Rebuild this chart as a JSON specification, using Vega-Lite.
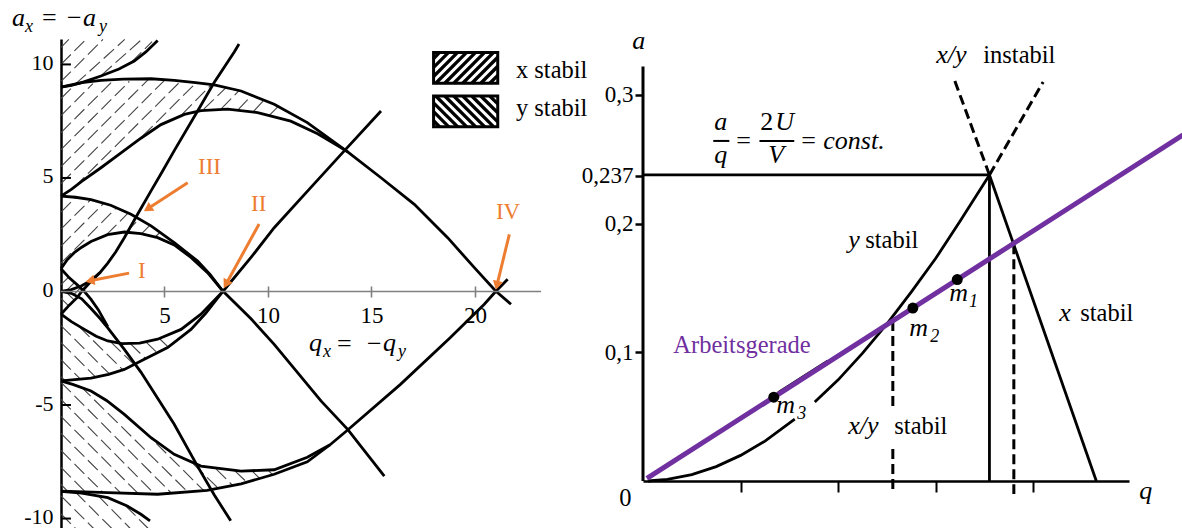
{
"$schema":"https://vega.github.io/schema/vega-lite/v6.json",
"padding":{"left":11,"top":5,"right":0,"bottom":0},
"autosize":{"type":"pad"},
"bounds":"flush",
"spacing":102,
"config":{"font":"'Liberation Serif', 'Times New Roman', 'DejaVu Serif', serif","view":{"stroke":null},"axis":{"grid":false,"labelFont":"'Liberation Serif', 'Times New Roman', 'DejaVu Serif', serif","labelFontSize":23,"labelColor":"black"},"text":{"font":"'Liberation Serif', 'Times New Roman', 'DejaVu Serif', serif","color":"black"}},
"datasets":{
"lc":[
{"c":"b3","q":0,"a":9.0},{"c":"b3","q":1,"a":9.2},{"c":"b3","q":1.93,"a":9.3},{"c":"b3","q":3,"a":9.35},{"c":"b3","q":4.35,"a":9.37},{"c":"b3","q":5.47,"a":9.3},{"c":"b3","q":6.5,"a":9.2},{"c":"b3","q":7.4,"a":9.1},{"c":"b3","q":8.7,"a":8.83},{"c":"b3","q":10.3,"a":8.25},{"c":"b3","q":11.9,"a":7.44},{"c":"b3","q":12.9,"a":6.78},{"c":"b3","q":13.85,"a":6.15},{"c":"b3","q":15.46,"a":5.01},{"c":"b3","q":17.07,"a":3.84},{"c":"b3","q":18.68,"a":2.37},{"c":"b3","q":19.97,"a":1.05},{"c":"b3","q":21.0,"a":0.02},{"c":"b3","q":21.74,"a":-0.56},
{"c":"a2","q":0,"a":4.2},{"c":"a2","q":0.5,"a":4.5},{"c":"a2","q":1,"a":4.85},{"c":"a2","q":1.93,"a":5.45},{"c":"a2","q":2.9,"a":6.1},{"c":"a2","q":3.86,"a":6.75},{"c":"a2","q":4.83,"a":7.35},{"c":"a2","q":5.96,"a":7.8},{"c":"a2","q":6.76,"a":7.97},{"c":"a2","q":8.05,"a":8.03},{"c":"a2","q":9.5,"a":7.88},{"c":"a2","q":11.1,"a":7.5},{"c":"a2","q":12.4,"a":6.95},{"c":"a2","q":13.5,"a":6.35},{"c":"a2","q":13.85,"a":6.15},
{"c":"a3","q":0,"a":9.0},{"c":"a3","q":0.5,"a":9.08},{"c":"a3","q":1,"a":9.2},{"c":"a3","q":1.93,"a":9.49},{"c":"a3","q":2.8,"a":9.8},{"c":"a3","q":3.54,"a":10.15},{"c":"a3","q":4.1,"a":10.55},{"c":"a3","q":4.67,"a":11.05},
{"c":"b2","q":0,"a":4.2},{"c":"b2","q":0.7,"a":4.15},{"c":"b2","q":1.45,"a":4.05},{"c":"b2","q":2.4,"a":3.8},{"c":"b2","q":3.38,"a":3.4},{"c":"b2","q":4.35,"a":2.89},{"c":"b2","q":5.47,"a":2.15},{"c":"b2","q":6.6,"a":1.34},{"c":"b2","q":7.2,"a":0.75},{"c":"b2","q":7.82,"a":0.02},{"c":"b2","q":9.18,"a":-1.2},{"c":"b2","q":10.3,"a":-2.33},{"c":"b2","q":12.56,"a":-4.82},{"c":"b2","q":13.85,"a":-6.07},{"c":"b2","q":15.62,"a":-8.13},
{"c":"a1","q":0,"a":1.0},{"c":"a1","q":0.3,"a":1.4},{"c":"a1","q":0.64,"a":1.71},{"c":"a1","q":1,"a":1.95},{"c":"a1","q":1.45,"a":2.2},{"c":"a1","q":2.25,"a":2.5},{"c":"a1","q":3.06,"a":2.62},{"c":"a1","q":3.86,"a":2.55},{"c":"a1","q":4.67,"a":2.37},{"c":"a1","q":5.47,"a":2.05},{"c":"a1","q":6.28,"a":1.5},{"c":"a1","q":7.08,"a":0.83},{"c":"a1","q":7.82,"a":0.02},
{"c":"b1","q":0,"a":1.0},{"c":"b1","q":0.4,"a":0.6},{"c":"b1","q":0.8,"a":0.28},{"c":"b1","q":1.13,"a":0},{"c":"b1","q":1.45,"a":-0.35},{"c":"b1","q":1.8,"a":-0.8},{"c":"b1","q":2.26,"a":-1.55},
{"c":"a0","q":0,"a":0},{"c":"a0","q":0.5,"a":-0.08},{"c":"a0","q":1,"a":-0.32},{"c":"a0","q":1.45,"a":-0.75},{"c":"a0","q":1.9,"a":-1.2},{"c":"a0","q":2.26,"a":-1.6},{"c":"a0","q":3.06,"a":-2.55},{"c":"a0","q":3.86,"a":-3.55},{"c":"a0","q":4.7,"a":-4.75},{"c":"a0","q":5.47,"a":-5.85},{"c":"a0","q":6.6,"a":-7.7},{"c":"a0","q":7.4,"a":-8.95},{"c":"a0","q":8.2,"a":-10.1},
{"c":"ma0","q":0,"a":0},{"c":"ma0","q":0.5,"a":0.08},{"c":"ma0","q":1,"a":0.25},{"c":"ma0","q":1.45,"a":0.48},{"c":"ma0","q":1.9,"a":0.85},{"c":"ma0","q":2.26,"a":1.25},{"c":"ma0","q":2.65,"a":1.75},{"c":"ma0","q":3.06,"a":2.37},{"c":"ma0","q":3.7,"a":3.4},{"c":"ma0","q":4.35,"a":4.43},{"c":"ma0","q":4.91,"a":5.31},{"c":"ma0","q":5.5,"a":6.25},{"c":"ma0","q":6.6,"a":7.95},{"c":"ma0","q":7.4,"a":9.2},{"c":"ma0","q":8.37,"a":10.55},{"c":"ma0","q":8.6,"a":10.9},
{"c":"mb1","q":0,"a":-1.0},{"c":"mb1","q":0.4,"a":-0.6},{"c":"mb1","q":0.8,"a":-0.25},{"c":"mb1","q":1.0,"a":0},{"c":"mb1","q":1.45,"a":0.45},{"c":"mb1","q":1.9,"a":0.85},
{"c":"mb3","q":0,"a":-8.79},{"c":"mb3","q":2.26,"a":-8.86},{"c":"mb3","q":4.67,"a":-8.93},{"c":"mb3","q":7.06,"a":-8.76},{"c":"mb3","q":8.7,"a":-8.47},{"c":"mb3","q":10.3,"a":-8.05},{"c":"mb3","q":11.9,"a":-7.5},{"c":"mb3","q":13,"a":-6.75},{"c":"mb3","q":13.85,"a":-6.1},{"c":"mb3","q":16.4,"a":-4.09},{"c":"mb3","q":18.8,"a":-2.04},{"c":"mb3","q":20.45,"a":-0.56},{"c":"mb3","q":21.0,"a":0},{"c":"mb3","q":21.58,"a":0.54},
{"c":"ma2","q":0,"a":-3.94},{"c":"ma2","q":0.6,"a":-4.1},{"c":"ma2","q":1.45,"a":-4.38},{"c":"ma2","q":2.2,"a":-4.8},{"c":"ma2","q":3.06,"a":-5.41},{"c":"ma2","q":4.35,"a":-6.44},{"c":"ma2","q":5.47,"a":-7.17},{"c":"ma2","q":6.76,"a":-7.69},{"c":"ma2","q":8.7,"a":-7.91},{"c":"ma2","q":10.3,"a":-7.85},{"c":"ma2","q":11.9,"a":-7.3},{"c":"ma2","q":13,"a":-6.75},
{"c":"ma3","q":0,"a":-8.8},{"c":"ma3","q":1,"a":-8.88},{"c":"ma3","q":2.26,"a":-9.08},{"c":"ma3","q":3.2,"a":-9.45},{"c":"ma3","q":3.86,"a":-9.81},{"c":"ma3","q":4.3,"a":-10.1},
{"c":"mb2","q":0,"a":-3.94},{"c":"mb2","q":1.45,"a":-3.82},{"c":"mb2","q":2.3,"a":-3.65},{"c":"mb2","q":3.06,"a":-3.43},{"c":"mb2","q":3.86,"a":-3.06},{"c":"mb2","q":5.15,"a":-2.47},{"c":"mb2","q":6.28,"a":-1.67},{"c":"mb2","q":7.0,"a":-0.95},{"c":"mb2","q":7.82,"a":0},{"c":"mb2","q":9.18,"a":1.5},{"c":"mb2","q":10.3,"a":2.81},{"c":"mb2","q":11.92,"a":4.43},{"c":"mb2","q":13.53,"a":6.04},{"c":"mb2","q":15.46,"a":7.95},
{"c":"ma1","q":0,"a":-1.0},{"c":"ma1","q":0.5,"a":-1.33},{"c":"ma1","q":1.13,"a":-1.67},{"c":"ma1","q":1.7,"a":-1.97},{"c":"ma1","q":2.26,"a":-2.18},{"c":"ma1","q":2.95,"a":-2.3},{"c":"ma1","q":3.8,"a":-2.27},{"c":"ma1","q":4.67,"a":-2.1},{"c":"ma1","q":5.8,"a":-1.67},{"c":"ma1","q":6.76,"a":-1.0},{"c":"ma1","q":7.82,"a":0}
],
"lh":[
{"q":0,"a":10.75,"q2":0.38,"a2":11.1},{"q":0,"a":10.0,"q2":1.2,"a2":11.1},{"q":0,"a":9.25,"q2":2.03,"a2":11.1},{"q":0.7,"a":9.14,"q2":3.08,"a2":11.1},{"q":1.95,"a":9.52,"q2":3.9,"a2":11.1},{"q":3.4,"a":10.1,"q2":4.4,"a2":11.0},
{"q":0,"a":8.5,"q2":0.66,"a2":9.1},{"q":0,"a":7.75,"q2":1.54,"a2":9.15},{"q":0,"a":7.0,"q2":2.42,"a2":9.2},{"q":0,"a":6.25,"q2":3.3,"a2":9.25},{"q":0,"a":5.5,"q2":4.2,"a2":9.32},{"q":0,"a":4.75,"q2":5.0,"a2":9.3},{"q":0.65,"a":4.6,"q2":5.8,"a2":9.28},{"q":3.95,"a":6.85,"q2":6.5,"a2":9.17},{"q":5.85,"a":7.8,"q2":7.25,"a2":9.1},{"q":6.9,"a":8.03,"q2":8.0,"a2":9.0},{"q":7.75,"a":8.05,"q2":8.6,"a2":8.85},{"q":8.55,"a":8.0,"q2":9.2,"a2":8.62},{"q":9.3,"a":7.93,"q2":9.8,"a2":8.42},{"q":10.05,"a":7.75,"q2":10.5,"a2":8.15},
{"q":0,"a":3.5,"q2":0.72,"a2":4.15},{"q":0,"a":2.75,"q2":1.45,"a2":4.06},{"q":0,"a":2.0,"q2":2.05,"a2":3.87},{"q":0,"a":1.25,"q2":2.65,"a2":3.66},{"q":2.2,"a":2.5,"q2":3.25,"a2":3.46},{"q":3.15,"a":2.62,"q2":3.78,"a2":3.19},{"q":3.9,"a":2.55,"q2":4.3,"a2":2.92},{"q":4.55,"a":2.4,"q2":4.8,"a2":2.62},
{"q":0,"a":0.3,"q2":0.37,"a2":0.63},{"q":0.2,"a":-0.02,"q2":0.66,"a2":0.4},{"q":0.62,"a":-0.14,"q2":0.94,"a2":0.155},
{"q":0,"a":-8.5,"q2":0.33,"a2":-8.8},{"q":0,"a":-7.75,"q2":1.17,"a2":-8.82},{"q":0,"a":-7.0,"q2":2.04,"a2":-8.86},{"q":0,"a":-6.25,"q2":2.87,"a2":-8.86},{"q":0,"a":-5.5,"q2":3.7,"a2":-8.87},{"q":0,"a":-4.75,"q2":4.5,"a2":-8.9},{"q":0,"a":-4.0,"q2":5.3,"a2":-8.85},{"q":0.95,"a":-4.18,"q2":6.15,"a2":-8.85},{"q":3.95,"a":-6.1,"q2":6.9,"a2":-8.77},{"q":6.4,"a":-7.6,"q2":7.6,"a2":-8.67},{"q":7.5,"a":-7.82,"q2":8.3,"a2":-8.55},{"q":8.4,"a":-7.9,"q2":9.0,"a2":-8.42},{"q":9.2,"a":-7.88,"q2":9.6,"a2":-8.23},{"q":10.0,"a":-7.87,"q2":10.22,"a2":-8.07},
{"q":0,"a":-1.5,"q2":2.33,"a2":-3.62},{"q":0,"a":-2.25,"q2":1.7,"a2":-3.79},{"q":0,"a":-3.0,"q2":0.95,"a2":-3.87},{"q":0,"a":-3.75,"q2":0.2,"a2":-3.93},{"q":0.9,"a":-1.57,"q2":3.0,"a2":-3.46},{"q":2.4,"a":-2.22,"q2":3.5,"a2":-3.19},{"q":3.35,"a":-2.3,"q2":4.1,"a2":-2.97},{"q":4.1,"a":-2.22,"q2":4.65,"a2":-2.7},{"q":4.75,"a":-2.07,"q2":5.2,"a2":-2.46},
{"q":0,"a":-9.0,"q2":1.6,"a2":-10.46},{"q":0,"a":-9.8,"q2":0.73,"a2":-10.46},{"q":0.7,"a":-8.84,"q2":2.48,"a2":-10.46},{"q":1.8,"a":-9.0,"q2":3.37,"a2":-10.46},{"q":3.12,"a":-9.44,"q2":4.24,"a2":-10.46},
{"q":0,"a":-0.3,"q2":0.37,"a2":-0.63},{"q":0.2,"a":0.02,"q2":0.63,"a2":-0.37}
],
"lax":[{"q":0,"a":0,"q2":23.19}],
"lyt":[{"q":0,"a":10,"q2":0.48},{"q":0,"a":5,"q2":0.48},{"q":0,"a":-5,"q2":0.48},{"q":0,"a":-10,"q2":0.48}],
"lls":[
{"q":18.0,"a":10.26,"q2":18.28,"a2":10.52},{"q":18.0,"a":9.87,"q2":18.715,"a2":10.52},{"q":18.0,"a":9.47,"q2":19.15,"a2":10.52},{"q":18.105,"a":9.17,"q2":19.585,"a2":10.52},{"q":18.54,"a":9.17,"q2":20.02,"a2":10.52},{"q":18.975,"a":9.17,"q2":20.455,"a2":10.52},{"q":19.41,"a":9.17,"q2":20.89,"a2":10.52},{"q":19.845,"a":9.17,"q2":21.1,"a2":10.315},{"q":20.28,"a":9.17,"q2":21.1,"a2":9.92},{"q":20.715,"a":9.17,"q2":21.1,"a2":9.52},
{"q":18.0,"a":7.52,"q2":18.3,"a2":7.25},{"q":18.0,"a":7.92,"q2":18.735,"a2":7.25},{"q":18.0,"a":8.31,"q2":19.17,"a2":7.25},{"q":18.105,"a":8.61,"q2":19.605,"a2":7.25},{"q":18.54,"a":8.61,"q2":20.04,"a2":7.25},{"q":18.975,"a":8.61,"q2":20.475,"a2":7.25},{"q":19.41,"a":8.61,"q2":20.91,"a2":7.25},{"q":19.845,"a":8.61,"q2":21.1,"a2":7.47},{"q":20.28,"a":8.61,"q2":21.1,"a2":7.87},{"q":20.715,"a":8.61,"q2":21.1,"a2":8.26}
],
"llb":[{"q":18.0,"a":9.17,"q2":21.1,"a2":10.52},{"q":18.0,"a":7.25,"q2":21.1,"a2":8.61}],
"lar":[{"q":6.12,"a":4.79,"q2":4.19,"a2":3.64},{"q":9.57,"a":2.97,"q2":7.97,"a2":0.32},{"q":3.29,"a":0.81,"q2":1.4,"a2":0.47},{"q":21.66,"a":2.52,"q2":21.06,"a2":0.27}],
"lhd":[{"q":4.19,"a":3.64,"dir":237},{"q":7.97,"a":0.32,"dir":209},{"q":1.4,"a":0.47,"dir":259},{"q":21.06,"a":0.27,"dir":194}],
"lol":[{"q":6.62,"a":5.17,"t":"III"},{"q":9.18,"a":3.545,"t":"II"},{"q":3.72,"a":0.595,"t":"I"},{"q":21.01,"a":3.19,"t":"IV"}],
"lit":[{"q":-2.37,"a":11.69,"t":"a"},{"q":1.06,"a":11.69,"t":"a"},{"q":11.98,"a":-2.62,"t":"q"},{"q":15.56,"a":-2.62,"t":"q"}],
"lsub":[{"q":-1.74,"a":11.43,"t":"x"},{"q":1.84,"a":11.43,"t":"y"},{"q":12.66,"a":-2.88,"t":"x"},{"q":16.28,"a":-2.88,"t":"y"}],
"lop":[{"q":-0.92,"a":11.69,"t":"="},{"q":0.29,"a":11.69,"t":"−"},{"q":13.33,"a":-2.66,"t":"="},{"q":14.78,"a":-2.66,"t":"−"}],
"lreg":[{"q":21.98,"a":9.4,"t":"x stabil"},{"q":21.98,"a":7.73,"t":"y stabil"}],
"rsol":[{"q":0.71,"a":0.2378,"q2":0,"a2":0.2378},{"q":0.71,"a":0,"q2":0.71,"a2":0.2378},{"q":0.71,"a":0.2378,"q2":0.929,"a2":0},{"q":0.277,"a":0.0686,"q2":0.379,"a2":0.0933}],
"ryax":[{"q":0,"a":0,"q2":0,"a2":0.322}],
"rbar":[{"q":0.144,"a":0.2642,"q2":0.177,"a2":0.2642},{"q":0.2387,"a":0.2642,"q2":0.31,"a2":0.2642}],
"rdash":[{"q":0.71,"a":0.2378,"q2":0.639,"a2":0.3108},{"q":0.71,"a":0.2378,"q2":0.82,"a2":0.31},{"q":0.512,"a":0.1243,"q2":0.512,"a2":0.0583},{"q":0.512,"a":0.0249,"q2":0.512,"a2":-0.0101},{"q":0.76,"a":0.184,"q2":0.76,"a2":-0.0101}],
"rcur":[
{"c":"s1","q":0.01,"a":0.0},{"c":"s1","q":0.05,"a":0.0012},{"c":"s1","q":0.1,"a":0.005},{"c":"s1","q":0.15,"a":0.0112},{"c":"s1","q":0.2,"a":0.0199},{"c":"s1","q":0.25,"a":0.031},{"c":"s1","q":0.311,"a":0.048},
{"c":"s2","q":0.352,"a":0.0614},{"c":"s2","q":0.4,"a":0.0786},{"c":"s2","q":0.45,"a":0.0993},{"c":"s2","q":0.5,"a":0.122},{"c":"s2","q":0.55,"a":0.147},{"c":"s2","q":0.6,"a":0.173},{"c":"s2","q":0.65,"a":0.202},{"c":"s2","q":0.71,"a":0.2378}
],
"rpur":[{"q":0.008,"a":0.002,"q2":1.107,"a2":0.269}],
"rdot":[{"q":0.644,"a":0.1565},{"q":0.553,"a":0.1344},{"q":0.268,"a":0.0651}],
"rit":[{"q":-0.0219,"a":0.3357,"t":"a"},{"q":1.017,"a":-0.014,"t":"q"},{"q":0.146,"a":0.2727,"t":"a"},{"q":0.146,"a":0.2471,"t":"q"},{"q":0.2711,"a":0.2727,"t":"U"},{"q":0.2568,"a":0.2471,"t":"V"},{"q":0.3695,"a":0.258,"t":"const."},{"q":0.601,"a":0.3248,"t":"x/y"},{"q":0.4207,"a":0.181,"t":"y"},{"q":0.8531,"a":0.1243,"t":"x"},{"q":0.4207,"a":0.0365,"t":"x/y"},{"q":0.6277,"a":0.1399,"t":"m"},{"q":0.5457,"a":0.1127,"t":"m"},{"q":0.2732,"a":0.0528,"t":"m"}],
"rsub":[{"q":0.668,"a":0.1352,"t":"1"},{"q":0.5887,"a":0.108,"t":"2"},{"q":0.3162,"a":0.0482,"t":"3"}],
"rop":[{"q":0.191,"a":0.258,"t":"="},{"q":0.2403,"a":0.2727,"t":"2"},{"q":0.3244,"a":0.258,"t":"="}],
"rreg":[{"q":0.6973,"a":0.3248,"t":"instabil"},{"q":0.4555,"a":0.181,"t":"stabil"},{"q":0.8961,"a":0.1243,"t":"stabil"},{"q":0.515,"a":0.0365,"t":"stabil"},{"q":-0.0486,"a":-0.0194,"t":"0"}],
"rpt":[{"q":0.0621,"a":0.0995,"t":"Arbeitsgerade"}]
},
"hconcat":[
{
"width":480,"height":490,
"encoding":{
"x":{"field":"q","type":"quantitative","scale":{"domain":[0,23.19],"nice":false,"zero":false},"axis":{"orient":"bottom","offset":-243,"values":[5,10,15,20],"domain":false,"tickColor":"#808080","tickWidth":1.6,"tickSize":11,"labelPadding":7,"labelFontSize":23,"title":null}},
"y":{"field":"a","type":"quantitative","scale":{"domain":[-10.46,11.12],"nice":false,"zero":false},"axis":{"values":[-10,-5,0,5,10],"ticks":false,"domainColor":"black","domainWidth":2.5,"labelPadding":8,"labelFontSize":22,"labelOffset":-2,"labelExpr":"'' + datum.value","title":null}}
},
"layer":[
{"data":{"name":"lh"},"mark":{"type":"rule","color":"#444","strokeWidth":1.1,"strokeDash":[14,5]},"encoding":{"x2":{"field":"q2"},"y2":{"field":"a2"}}},
{"data":{"name":"lc"},"mark":{"type":"line","color":"black","strokeWidth":2.8},"encoding":{"detail":{"field":"c"}}},
{"data":{"name":"lax"},"mark":{"type":"rule","color":"#808080","strokeWidth":1.6},"encoding":{"x2":{"field":"q2"}}},
{"data":{"name":"lyt"},"mark":{"type":"rule","color":"black","strokeWidth":2},"encoding":{"x2":{"field":"q2"}}},
{"data":{"name":"lls"},"mark":{"type":"rule","color":"black","strokeWidth":3.3},"encoding":{"x2":{"field":"q2"},"y2":{"field":"a2"}}},
{"data":{"name":"llb"},"mark":{"type":"rect","fillOpacity":0,"stroke":"black","strokeWidth":3},"encoding":{"x2":{"field":"q2"},"y2":{"field":"a2"}}},
{"data":{"name":"lar"},"mark":{"type":"rule","color":"#ED7D31","strokeWidth":3},"encoding":{"x2":{"field":"q2"},"y2":{"field":"a2"}}},
{"data":{"name":"lhd"},"mark":{"type":"point","shape":"triangle-up","filled":true,"color":"#ED7D31","size":110,"opacity":1},"encoding":{"angle":{"field":"dir","type":"quantitative","scale":null}}},
{"data":{"name":"lol"},"mark":{"type":"text","color":"#ED7D31","fontSize":23,"align":"left","baseline":"alphabetic"},"encoding":{"text":{"field":"t"}}},
{"data":{"name":"lit"},"mark":{"type":"text","fontSize":26,"fontStyle":"italic","align":"left","baseline":"alphabetic"},"encoding":{"text":{"field":"t"}}},
{"data":{"name":"lsub"},"mark":{"type":"text","fontSize":18,"fontStyle":"italic","align":"left","baseline":"alphabetic"},"encoding":{"text":{"field":"t"}}},
{"data":{"name":"lop"},"mark":{"type":"text","fontSize":26,"align":"left","baseline":"alphabetic"},"encoding":{"text":{"field":"t"}}},
{"data":{"name":"lreg"},"mark":{"type":"text","fontSize":24.5,"align":"left","baseline":"alphabetic"},"encoding":{"text":{"field":"t"}}}
]
},
{
"width":486,"height":442,
"encoding":{
"x":{"field":"q","type":"quantitative","scale":{"domain":[0,0.996],"nice":false,"zero":false},"axis":{"orient":"bottom","values":[0.2,0.4,0.6,0.8],"labels":false,"domainColor":"black","domainWidth":2.5,"tickColor":"black","tickWidth":2,"tickSize":11,"title":null}},
"y":{"field":"a","type":"quantitative","scale":{"domain":[0,0.3434],"nice":false,"zero":false},"axis":{"values":[0.1,0.2,0.237,0.3],"domain":false,"tickColor":"black","tickWidth":2.5,"tickSize":8,"labelPadding":2,"labelFontSize":23,"labelExpr":"replace(format(datum.value,'.3~f'),'.',',')","title":null}}
},
"layer":[
{"data":{"name":"ryax"},"mark":{"type":"rule","color":"black","strokeWidth":3},"encoding":{"x2":{"field":"q2"},"y2":{"field":"a2"}}},
{"data":{"name":"rsol"},"mark":{"type":"rule","color":"black","strokeWidth":2.8},"encoding":{"x2":{"field":"q2"},"y2":{"field":"a2"}}},
{"data":{"name":"rbar"},"mark":{"type":"rule","color":"black","strokeWidth":2},"encoding":{"x2":{"field":"q2"},"y2":{"field":"a2"}}},
{"data":{"name":"rcur"},"mark":{"type":"line","color":"black","strokeWidth":2.8},"encoding":{"detail":{"field":"c"}}},
{"data":{"name":"rdash"},"mark":{"type":"rule","color":"black","strokeWidth":3,"strokeDash":[10,5]},"encoding":{"x2":{"field":"q2"},"y2":{"field":"a2"}}},
{"data":{"name":"rpur"},"mark":{"type":"rule","color":"#7030A0","strokeWidth":5},"encoding":{"x2":{"field":"q2"},"y2":{"field":"a2"}}},
{"data":{"name":"rdot"},"mark":{"type":"point","shape":"circle","filled":true,"color":"black","size":120,"opacity":1}},
{"data":{"name":"rit"},"mark":{"type":"text","fontSize":26,"fontStyle":"italic","align":"left","baseline":"alphabetic"},"encoding":{"text":{"field":"t"}}},
{"data":{"name":"rsub"},"mark":{"type":"text","fontSize":18,"fontStyle":"italic","align":"left","baseline":"alphabetic"},"encoding":{"text":{"field":"t"}}},
{"data":{"name":"rop"},"mark":{"type":"text","fontSize":26,"align":"left","baseline":"alphabetic"},"encoding":{"text":{"field":"t"}}},
{"data":{"name":"rreg"},"mark":{"type":"text","fontSize":24.5,"align":"left","baseline":"alphabetic"},"encoding":{"text":{"field":"t"}}},
{"data":{"name":"rpt"},"mark":{"type":"text","fontSize":24.5,"color":"#7030A0","align":"left","baseline":"alphabetic"},"encoding":{"text":{"field":"t"}}}
]
}
]
}
